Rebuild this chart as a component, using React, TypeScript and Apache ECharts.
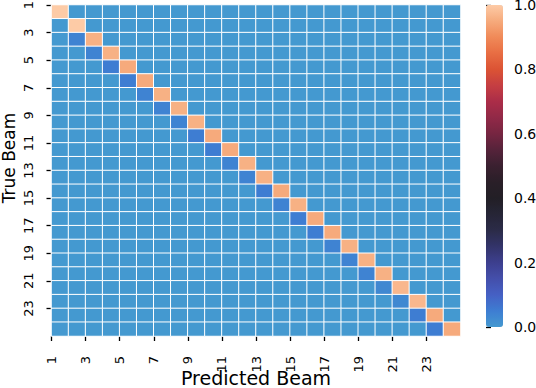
import React, { useEffect, useRef } from "react";
import * as echarts from "echarts";

// ---- data ----
const beams: string[] = Array.from({ length: 24 }, (_, i) => String(i + 1));
// diagonal (correct) share per true beam
const diagValues: number[] = [1.0, 1.0, 0.96, 0.96, 0.95, 0.95, 0.96, 0.96, 0.96, 0.95, 0.95, 0.96, 0.96, 0.95, 0.96, 0.95, 0.95, 0.96, 0.96, 0.96, 0.97, 0.97, 0.95, 0.95];
// share predicted as the previous beam (row r -> column r-1)
const prevValues: number[] = [0, 0, 0.04, 0.04, 0.05, 0.05, 0.04, 0.04, 0.04, 0.05, 0.05, 0.04, 0.04, 0.05, 0.04, 0.05, 0.05, 0.04, 0.04, 0.04, 0.03, 0.03, 0.05, 0.05];
const tickPositions: number[] = [0, 2, 4, 6, 8, 10, 12, 14, 16, 18, 20, 22];
const tickLabels: string[] = ["1", "3", "5", "7", "9", "11", "13", "15", "17", "19", "21", "23"];
const colorbarTicks: number[] = [0, 0.2, 0.4, 0.6, 0.8, 1.0];
const colorStops: string[] = [
  "#4499d0", "#3e7dd2", "#4560c4", "#444fab", "#3d3f8e", "#33346a", "#2b2b48", "#262536", "#221f26", "#2a1f28",
  "#3a2030", "#55233a", "#762541", "#912947", "#ab2d48", "#c53e42", "#db5334", "#e86d43", "#f08a58", "#f6aa7c", "#fdcba6",
];
const xTitle = "Predicted Beam";
const yTitle = "True Beam";

const FONT = "DejaVu Sans";

export default function App() {
  const ref = useRef<HTMLDivElement>(null);
  useEffect(() => {
    if (!ref.current) return;
    const chart = echarts.init(ref.current, undefined, { renderer: "svg" });
    const data: [number, number, number][] = [];
    for (let r = 0; r < beams.length; r++) {
      for (let c = 0; c < beams.length; c++) {
        let v = 0;
        if (c === r) v = diagValues[r];
        else if (c === r - 1) v = prevValues[r];
        data.push([c, r, v]);
      }
    }
    const gridLeft = 51.5, gridTop = 5, gridW = 409, gridH = 331;
    const labelMap = (v: number) => {
      const i = tickPositions.indexOf(v);
      return i >= 0 ? tickLabels[i] : "";
    };
    chart.setOption({
      animation: false,
      backgroundColor: "#fff",
      textStyle: { fontFamily: FONT },
      grid: [
        { left: gridLeft, top: gridTop, width: gridW, height: gridH, outerBoundsMode: "none", containLabel: false },
        { left: 486, top: 5, width: 17, height: 322, outerBoundsMode: "none", containLabel: false },
      ],
      graphic: [
        {
          type: "text", x: 9, y: 158, rotation: Math.PI / 2,
          style: { text: yTitle, fontSize: 17, fontFamily: FONT, fill: "#000", align: "center", verticalAlign: "middle" },
        },
        {
          type: "text", x: 256, y: 378,
          style: { text: xTitle, fontSize: 19, fontFamily: FONT, fill: "#000", align: "center", verticalAlign: "middle" },
        },
      ],
      xAxis: [
        {
          type: "category", data: beams, gridIndex: 0,
          axisLine: { show: false }, axisTick: { show: false }, axisLabel: { show: false }, splitLine: { show: false },
        },
        {
          type: "value", gridIndex: 0, min: 0, max: 24, position: "bottom",
          axisLine: { show: false }, splitLine: { show: false },
          axisTick: { show: true, length: 5, customValues: tickPositions, lineStyle: { color: "#000", width: 1.3 } },
          axisLabel: { show: true, customValues: tickPositions, formatter: labelMap, rotate: 90, fontSize: 13, color: "#000", margin: 20, fontFamily: FONT },
        },
        { type: "value", gridIndex: 1, show: false, min: 0, max: 1 },
      ],
      yAxis: [
        {
          type: "category", data: beams, gridIndex: 0, inverse: true,
          axisLine: { show: false }, axisTick: { show: false }, axisLabel: { show: false }, splitLine: { show: false },
        },
        {
          type: "value", gridIndex: 0, min: 0, max: 24, inverse: true, position: "left",
          axisLine: { show: false }, splitLine: { show: false },
          axisTick: { show: true, length: 5, customValues: tickPositions, lineStyle: { color: "#000", width: 1.3 } },
          axisLabel: { show: true, customValues: tickPositions, formatter: labelMap, rotate: 90, fontSize: 13, color: "#000", margin: 17, fontFamily: FONT },
        },
        {
          type: "value", gridIndex: 1, min: 0, max: 1, interval: 0.2, position: "right",
          axisLine: { show: false }, splitLine: { show: false },
          axisTick: { show: true, length: 5, lineStyle: { color: "#000", width: 1.3 } },
          axisLabel: { show: true, fontSize: 14, color: "#000", margin: 11, fontFamily: FONT, formatter: (v: number) => (colorbarTicks.some((t) => Math.abs(t - v) < 1e-6) ? v.toFixed(1) : "") },
        },
      ],
      visualMap: {
        type: "continuous", min: 0, max: 1, seriesIndex: 0,
        calculable: false, show: true, left: 486, top: 5, padding: 0,
        itemWidth: 17, itemHeight: 322, text: ["", ""], showLabel: false,
        inRange: { color: colorStops },
      },
      series: [
        {
          type: "heatmap", xAxisIndex: 0, yAxisIndex: 0, data,
          itemStyle: { borderColor: "#fff", borderWidth: 1 },
          emphasis: { disabled: true },
        },
      ],
    });
    return () => chart.dispose();
  }, []);
  return <div ref={ref} style={{ position: "absolute", left: 0, top: 0, width: 536, height: 388 }} />;
}
